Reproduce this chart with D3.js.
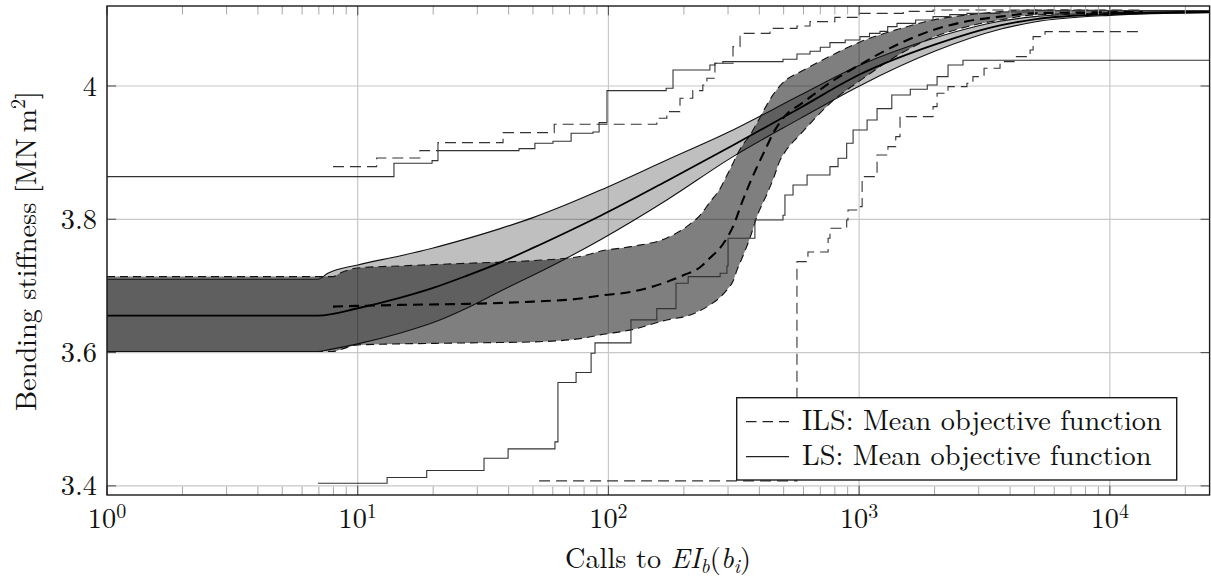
<!DOCTYPE html>
<html><head><meta charset="utf-8">
<script src="https://cdn.jsdelivr.net/npm/d3@7"></script>
<style>body{margin:0;background:#fff}</style>
</head><body>
<svg id="c" width="1211" height="581"></svg>
<script>
// ---------- data ----------
const xTicks = [1, 10, 100, 1000, 10000];
const xTickExp = ["0", "1", "2", "3", "4"];
const yTicks = [3.4, 3.6, 3.8, 4.0];
const yTickLabels = ["3.4", "3.6", "3.8", "4"];

// LS: band [calls, lower, upper] and mean [calls, value]
const lsBand = [[1,3.6015,3.710],[6.94,3.6015,3.710],[7.6,3.604,3.719],[10,3.613,3.7315],[14.7,3.629,3.745],[20,3.645,3.757],[27.3,3.667,3.771],[37,3.692,3.786],[50,3.716,3.8025],[68.4,3.742,3.8225],[92.6,3.769,3.8435],[171,3.829,3.889],[314,3.894,3.934],[581,3.951,3.986],[990,3.999,4.030],[2000,4.052,4.072],[3650,4.085,4.097],[5000,4.096,4.104],[10000,4.106,4.110],[25000,4.110,4.112]];
const lsMean = [[1,3.6555],[6.94,3.6555],[10,3.6665],[14.7,3.682],[20,3.697],[27.3,3.7155],[37,3.735],[50,3.757],[68.4,3.781],[92.6,3.805],[171,3.8575],[314,3.911],[581,3.967],[990,4.016],[2000,4.062],[3650,4.091],[5000,4.100],[10000,4.108],[25000,4.111]];
const lsMax = [[1,3.864],[13.95,3.884],[19.8,3.888],[20.9,3.903],[44,3.906],[50.9,3.914],[60.1,3.917],[71,3.929],[86.8,3.931],[91.8,3.945],[98.7,3.993],[170,3.9965],[181,4.024],[254,4.0315],[266,4.034],[286,4.0365],[497,4.040],[565,4.048],[637,4.052],[700,4.058],[765,4.065],[880,4.069],[1008,4.074],[1100,4.079],[1211,4.082],[1300,4.089],[1416,4.094],[1680,4.099],[1972,4.104],[2300,4.107],[2692,4.109],[3648,4.111],[4943,4.113],[25000,4.113]];
const lsMin = [[6.94,3.404],[13.1,3.4125],[18.85,3.423],[31.9,3.4415],[39.8,3.4555],[61.2,3.466],[62.9,3.555],[74.3,3.570],[85.3,3.599],[88.4,3.6145],[123,3.649],[156,3.666],[186,3.704],[208,3.714],[279,3.719],[297,3.73],[300,3.7715],[384,3.799],[497,3.806],[506,3.8365],[545,3.8515],[620,3.8665],[765,3.879],[824,3.8915],[892,3.914],[946,3.934],[1076,3.949],[1179,3.966],[1350,3.9865],[1600,3.995],[1870,4.0015],[2046,4.014],[2263,4.0315],[2596,4.0385],[25000,4.0385]];

// ILS: band [calls, lower, upper] and mean [calls, value]
const ilsBand = [[1,3.6015,3.714],[7.97,3.6015,3.714],[8.6,3.605,3.72],[10,3.6115,3.727],[14.7,3.613,3.730],[27.3,3.6145,3.734],[50,3.616,3.738],[79,3.6215,3.745],[92.6,3.6265,3.752],[123,3.634,3.759],[171,3.649,3.772],[212,3.6565,3.793],[232,3.663,3.806],[254,3.6715,3.826],[279,3.683,3.846],[297,3.694,3.866],[314,3.707,3.884],[326,3.724,3.897],[344,3.745,3.912],[367,3.772,3.926],[392,3.805,3.945],[429,3.838,3.972],[454,3.860,3.987],[483,3.888,4.000],[515,3.905,4.010],[581,3.927,4.021],[787,3.978,4.047],[1008,4.008,4.066],[1456,4.048,4.086],[1972,4.073,4.099],[2692,4.089,4.1065],[3648,4.099,4.1115],[4943,4.1065,4.114],[13560,4.110,4.113]];
const ilsMean = [[7.97,3.669],[10,3.670],[14.7,3.6715],[27.3,3.673],[50,3.6765],[79,3.6815],[92.6,3.6855],[123,3.691],[171,3.706],[199,3.716],[232,3.728],[254,3.742],[279,3.757],[297,3.772],[314,3.789],[344,3.829],[367,3.855],[392,3.879],[429,3.91],[454,3.929],[483,3.945],[515,3.958],[581,3.972],[787,4.008],[1008,4.032],[1456,4.064],[1972,4.084],[2692,4.097],[3648,4.104],[4943,4.109],[13560,4.111]];
const ilsMax = [[7.97,3.879],[11.9,3.892],[17.7,3.903],[20.9,3.915],[38,3.930],[60.8,3.9425],[156,3.9515],[171,3.9615],[193,3.9815],[217,3.993],[238,4.0015],[247,4.0115],[266,4.034],[314,4.059],[335,4.079],[441,4.0865],[565,4.090],[637,4.0965],[800,4.103],[1008,4.109],[1500,4.112],[1972,4.114],[13560,4.114]];
const ilsMin = [[52.9,3.4075],[565,3.7365],[625,3.751],[752,3.7715],[765,3.7865],[892,3.799],[903,3.814],[1000,3.819],[1028,3.864],[1179,3.8965],[1303,3.909],[1400,3.924],[1456,3.954],[1972,3.969],[2046,3.989],[2263,3.999],[2692,4.004],[2844,4.014],[3150,4.0265],[3648,4.0365],[4150,4.044],[4808,4.054],[4943,4.074],[5516,4.0815],[13560,4.0815]];

const legendLabels = ["ILS: Mean objective function", "LS: Mean objective function"];

// ---------- layout ----------
const FONT = "'Latin Modern Roman', 'Liberation Serif', serif";
const FS = 28.3, FS2 = 20;
const L = 107, R = 1209.6, T = 6, B = 495;
const svg = d3.select("#c");
const x = d3.scaleLog().domain([1, 25000]).range([L, R]);
const y = d3.scaleLinear().domain([3.3863, 4.12]).range([B, T]);

svg.append("defs").append("clipPath").attr("id", "clip")
  .append("rect").attr("x", L).attr("y", T).attr("width", R - L).attr("height", B - T);

// grid
const grid = svg.append("g");
grid.selectAll("line.gx").data(xTicks).join("line")
  .attr("x1", d => x(d)).attr("x2", d => x(d)).attr("y1", T).attr("y2", B)
  .attr("stroke", "#c8c8c8").attr("stroke-width", 1.2);
grid.selectAll("line.gy").data(yTicks).join("line")
  .attr("x1", L).attr("x2", R).attr("y1", d => y(d)).attr("y2", d => y(d))
  .attr("stroke", "#c8c8c8").attr("stroke-width", 1.2);

const plot = svg.append("g").attr("clip-path", "url(#clip)");

const area = d3.area().x(d => x(d[0])).y0(d => y(d[1])).y1(d => y(d[2])).curve(d3.curveMonotoneX);
const lo = d3.line().x(d => x(d[0])).y(d => y(d[1])).curve(d3.curveMonotoneX);
const hi = d3.line().x(d => x(d[0])).y(d => y(d[2])).curve(d3.curveMonotoneX);
const smooth = d3.line().x(d => x(d[0])).y(d => y(d[1])).curve(d3.curveMonotoneX);
const step = d3.line().x(d => x(d[0])).y(d => y(d[1])).curve(d3.curveStepAfter);

// bands
plot.append("path").attr("d", area(ilsBand)).attr("fill", "#000").attr("fill-opacity", 0.5);
plot.append("path").attr("d", area(lsBand)).attr("fill", "#000").attr("fill-opacity", 0.25);

// band edges
[lo, hi].forEach(g => {
  plot.append("path").attr("d", g(lsBand)).attr("fill", "none").attr("stroke", "#111").attr("stroke-width", 1.1);
  plot.append("path").attr("d", g(ilsBand)).attr("fill", "none").attr("stroke", "#111").attr("stroke-width", 1.1).attr("stroke-dasharray", "8,5");
});

// min / max runs
[lsMax, lsMin].forEach(s => plot.append("path").attr("d", step(s)).attr("fill", "none")
  .attr("stroke", "#333").attr("stroke-width", 1.1));
[ilsMax, ilsMin].forEach(s => plot.append("path").attr("d", step(s)).attr("fill", "none")
  .attr("stroke", "#333").attr("stroke-width", 1.1).attr("stroke-dasharray", "11,6"));

// means
plot.append("path").attr("d", smooth(lsMean)).attr("fill", "none").attr("stroke", "#000").attr("stroke-width", 1.8);
plot.append("path").attr("d", smooth(ilsMean)).attr("fill", "none").attr("stroke", "#000").attr("stroke-width", 2.1).attr("stroke-dasharray", "10,6");

// ticks
const ticks = svg.append("g");
const minor = [];
for (let k = 0; k < 5; k++) for (let m = 2; m <= 9; m++) { const v = m * Math.pow(10, k); if (v < 25000) minor.push(v); }
[[B, -8.5], [T, 8.5]].forEach(([y0, dl]) => {
  ticks.selectAll(null).data(minor).join("line")
    .attr("x1", d => x(d)).attr("x2", d => x(d)).attr("y1", y0).attr("y2", y0 + dl)
    .attr("stroke", "#a8a8a8").attr("stroke-width", 1);
  ticks.selectAll(null).data(xTicks).join("line")
    .attr("x1", d => x(d)).attr("x2", d => x(d)).attr("y1", y0).attr("y2", y0 + dl * 1.1)
    .attr("stroke", "#555").attr("stroke-width", 1.1);
});
[[L, 9], [R, -9]].forEach(([x0, dl]) => {
  ticks.selectAll(null).data(yTicks).join("line")
    .attr("x1", x0).attr("x2", x0 + dl).attr("y1", d => y(d)).attr("y2", d => y(d))
    .attr("stroke", "#555").attr("stroke-width", 1.1);
});

// frame
svg.append("rect").attr("x", L).attr("y", T).attr("width", R - L).attr("height", B - T)
  .attr("fill", "none").attr("stroke", "#1a1a1a").attr("stroke-width", 1.4);

// tick labels
const xl = svg.append("g").selectAll("text").data(xTicks).join("text")
  .style("font-family", FONT).style("font-size", FS + "px").style("fill", "#111")
  .attr("x", d => x(d)).attr("y", 528).attr("text-anchor", "middle");
xl.append("tspan").text("10");
xl.append("tspan").style("font-size", FS2 + "px").attr("dy", -10).text((d, i) => xTickExp[i]);

svg.append("g").selectAll("text").data(yTicks).join("text")
  .style("font-family", FONT).style("font-size", FS + "px").style("fill", "#111")
  .attr("x", 97).attr("y", d => y(d)).attr("dy", "0.34em").attr("text-anchor", "end")
  .text((d, i) => yTickLabels[i]);

// axis titles
const xt = svg.append("text").attr("x", 658).attr("y", 568).attr("text-anchor", "middle")
  .style("font-family", FONT).style("font-size", FS + "px").style("fill", "#111");
xt.append("tspan").text("Calls to ");
xt.append("tspan").style("font-style", "italic").text("EI");
xt.append("tspan").style("font-style", "italic").style("font-size", FS2 + "px").attr("dy", 4.5).text("b");
xt.append("tspan").attr("dy", -4.5).text("(");
xt.append("tspan").style("font-style", "italic").text("b");
xt.append("tspan").style("font-style", "italic").style("font-size", FS2 + "px").attr("dy", 4.5).text("i");
xt.append("tspan").attr("dy", -4.5).text(")");

const yt = svg.append("text").attr("transform", "translate(36,251) rotate(-90)").attr("text-anchor", "middle")
  .style("font-family", FONT).style("font-size", FS + "px").style("fill", "#111");
yt.append("tspan").text("Bending stiffness [MN\u2009m");
yt.append("tspan").style("font-size", FS2 + "px").attr("dy", -11).text("2");
yt.append("tspan").attr("dy", 11).text("]");

// legend
const lg = svg.append("g");
lg.append("rect").attr("x", 736.7).attr("y", 397.7).attr("width", 440).attr("height", 82.3)
  .attr("fill", "#fff").attr("stroke", "#1a1a1a").attr("stroke-width", 1.4);
lg.append("line").attr("x1", 746).attr("x2", 789).attr("y1", 421.7).attr("y2", 421.7)
  .attr("stroke", "#222").attr("stroke-width", 1.3).attr("stroke-dasharray", "10.5,6");
lg.append("line").attr("x1", 746).attr("x2", 789).attr("y1", 456.7).attr("y2", 456.7)
  .attr("stroke", "#222").attr("stroke-width", 1.3);
lg.selectAll("text").data(legendLabels).join("text")
  .style("font-family", FONT).style("font-size", FS + "px").style("fill", "#111")
  .attr("x", 802).attr("y", (d, i) => 430 + i * 35)
  .text(d => d);
</script>
</body></html>
